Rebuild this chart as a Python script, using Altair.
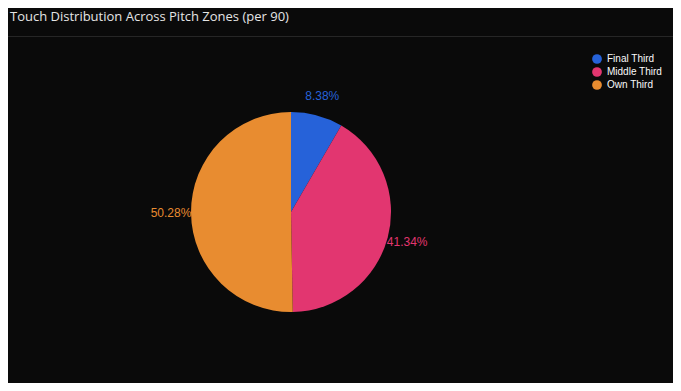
import altair as alt
import pandas as pd

zones = ["Final Third", "Middle Third", "Own Third"]
shares = [8.38, 41.34, 50.28]
colors = ["#2662d9", "#e23670", "#e88c30"]
title_text = "Touch Distribution Across Pitch Zones (per 90)"

df = pd.DataFrame({"zone": zones, "share": shares, "idx": list(range(len(zones)))})

W, H = 665, 375
CX, CY = 283, 204

color_scale = alt.Scale(domain=zones, range=colors)

base = alt.Chart(df).encode(
    theta=alt.Theta("share:Q", stack=True),
    order=alt.Order("idx:Q"),
)

arc = base.mark_arc(radius=100, x=CX, y=CY).encode(
    color=alt.Color(
        "zone:N",
        scale=color_scale,
        sort=zones,
        legend=alt.Legend(
            title=None,
            orient="none",
            legendX=584,
            legendY=46,
            symbolType="circle",
            symbolSize=95,
            symbolStrokeWidth=0,
            labelColor="#fafafa",
            labelFont="Liberation Sans",
            labelFontSize=10,
            rowPadding=3,
            padding=0,
            labelOffset=5,
        ),
    )
)

labels = base.mark_text(
    radius=120, x=CX, y=CY, font="Liberation Sans", fontSize=12, baseline="middle", align="center"
).transform_calculate(
    label="format(datum.share, '.2f') + '%'"
).encode(
    text="label:N",
    color=alt.Color("zone:N", scale=color_scale, legend=None),
)

sep = alt.Chart(pd.DataFrame({"a": [0]})).mark_rule(color="#262626", strokeWidth=1).encode(
    x=alt.value(0), x2=alt.value(W), y=alt.value(28.5)
)

title = alt.Chart(pd.DataFrame({"t": [title_text]})).mark_text(
    align="left", baseline="middle", font="Open Sans", fontSize=13, color="#e5e5e5"
).encode(x=alt.value(2), y=alt.value(9), text="t:N")

chart = alt.layer(sep, title, arc, labels).properties(
    width=W,
    height=H,
    background="#0a0a0a",
    padding=0,
    autosize=alt.AutoSizeParams(type="none"),
).configure_view(stroke=None)

chart.save("out.html", embed_options={"renderer": "svg", "actions": False})
